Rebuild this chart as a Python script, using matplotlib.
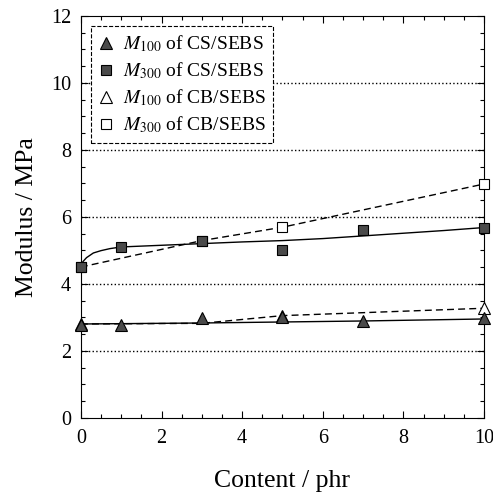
import numpy as np
import matplotlib
matplotlib.use('Agg')
import matplotlib.pyplot as plt
from matplotlib.ticker import MultipleLocator

plt.rcParams['font.family'] = ['Liberation Serif', 'DejaVu Serif']
plt.rcParams['mathtext.fontset'] = 'stix'

# ===== data =====
x_cs = [0, 1, 3, 5, 7, 10]
m100_cs = [2.78, 2.78, 2.97, 3.0, 2.88, 2.97]
m300_cs = [4.5, 5.1, 5.29, 5.0, 5.6, 5.68]

x_cb = [0, 3, 5, 10]
m100_cb = [2.8, 2.82, 3.05, 3.27]
m300_cb = [4.5, 5.29, 5.69, 6.98]

# fitted (solid) curves for CS/SEBS
fit300_x = [0, 0.05, 0.14, 0.31, 0.5, 0.72, 1, 2, 3, 4, 5, 6, 7, 8, 9, 10]
fit300_y = [4.5, 4.66, 4.78, 4.92, 4.99, 5.05, 5.1, 5.15, 5.2, 5.25, 5.29,
            5.35, 5.43, 5.51, 5.59, 5.68]
fit100_x = [0, 3, 5, 7, 10]
fit100_y = [2.8, 2.83, 2.86, 2.89, 2.95]

labels = [r'$M_{100}$ of CS/SEBS', r'$M_{300}$ of CS/SEBS',
          r'$M_{100}$ of CB/SEBS', r'$M_{300}$ of CB/SEBS']

# ===== plot =====
fig = plt.figure(figsize=(4.93, 4.95), dpi=100)
ax = fig.add_axes([0.164, 0.156, 0.818, 0.812])

fill = '#4a4a4a'

# lines
ax.plot(x_cb, m300_cb, 'k--', lw=1, dashes=(5, 3), zorder=2)
ax.plot(x_cb, m100_cb, 'k--', lw=1, dashes=(5, 3), zorder=2)
ax.plot(fit300_x, fit300_y, 'k-', lw=1, zorder=2)
ax.plot(fit100_x, fit100_y, 'k-', lw=1, zorder=2)

# markers (CB under CS); the CB M100 point at 3 phr has no visible marker
h3, = ax.plot(x_cb, m100_cb, '^', ms=8.5, mfc='white', mec='black', mew=0.8,
              ls='none', label=labels[2], zorder=3, clip_on=False,
              markevery=[0, 2, 3])
h4, = ax.plot(x_cb, m300_cb, 's', ms=7.5, mfc='white', mec='black', mew=0.8,
              ls='none', label=labels[3], zorder=3, clip_on=False)
h1, = ax.plot(x_cs, m100_cs, '^', ms=8.5, mfc=fill, mec='black', mew=0.8,
              ls='none', label=labels[0], zorder=4, clip_on=False)
h2, = ax.plot(x_cs, m300_cs, 's', ms=7.5, mfc=fill, mec='black', mew=0.8,
              ls='none', label=labels[1], zorder=4, clip_on=False)

ax.set_xlim(0, 10)
ax.set_ylim(0, 12)
ax.xaxis.set_major_locator(MultipleLocator(2))
ax.xaxis.set_minor_locator(MultipleLocator(0.5))
ax.yaxis.set_major_locator(MultipleLocator(2))
ax.yaxis.set_minor_locator(MultipleLocator(0.5))
ax.tick_params(which='both', direction='in', top=True, right=True,
               labelsize=14.5, width=0.8)
ax.tick_params(which='major', length=5)
ax.tick_params(axis='x', which='major', pad=8)
ax.tick_params(axis='y', which='major', pad=7)
ax.tick_params(which='minor', length=3)

for yv in [2, 4, 6, 8, 10]:
    ax.axhline(yv, color='black', ls=':', lw=1, zorder=1)

ax.set_xlabel('Content / phr', fontsize=18.5, labelpad=16)
ax.set_ylabel('Modulus / MPa', fontsize=18.5, labelpad=9)

leg = ax.legend(handles=[h1, h2, h3, h4], loc='upper left', fontsize=14,
                frameon=True, fancybox=False, framealpha=1, edgecolor='black',
                handlelength=0.8, handletextpad=0.45, borderpad=0.4,
                labelspacing=0.33, borderaxespad=0.5)
leg.get_frame().set_linestyle('--')
leg.get_frame().set_linewidth(0.8)
leg.set_zorder(5)

fig.savefig('out.png', dpi=100)
